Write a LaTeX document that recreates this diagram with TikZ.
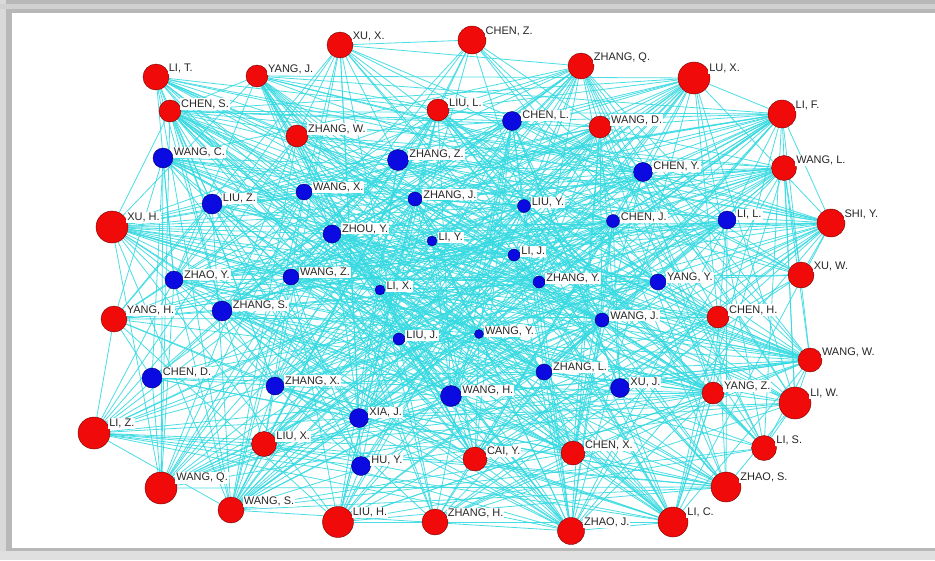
\documentclass[tikz,border=0pt]{standalone}
\usepackage{fontspec}
\setmainfont{Liberation Sans}
\usetikzlibrary{backgrounds}
\definecolor{edgecyan}{RGB}{55,218,226}
\definecolor{nodered}{RGB}{240,10,10}
\definecolor{nodeblue}{RGB}{10,10,225}
\tikzset{
  rednode/.style={circle, draw=red!45!black, fill=nodered, inner sep=0pt},
  bluenode/.style={circle, draw=blue!45!black, fill=nodeblue, inner sep=0pt},
  lbl/.style={fill=white, inner sep=1pt, anchor=west, font=\fontsize{11}{12}\selectfont, text=black!85},
  edge/.style={draw=edgecyan, line width=0.8pt, opacity=0.9},
}
\newcommand{\rn}[5]{\node[rednode, minimum size=#4pt, label={[lbl, label distance=1pt]35:#5}] (#1) at (#2,#3) {};}
\newcommand{\bn}[5]{\node[bluenode, minimum size=#4pt, label={[lbl, label distance=1pt]30:#5}] (#1) at (#2,#3) {};}

\begin{document}
\begin{tikzpicture}[x=1pt, y=-1pt]
  \useasboundingbox (0,0) rectangle (935,560);

  % red nodes
  \rn{xux}{340}{45}{26}{XU, X.}
  \rn{chenz}{472}{40}{28}{CHEN, Z.}
  \rn{zhangq}{581}{66}{26}{ZHANG, Q.}
  \rn{lux}{694}{78}{32}{LU, X.}
  \rn{lif}{782}{114}{28}{LI, F.}
  \rn{wangl}{784}{168}{25}{WANG, L.}
  \rn{shiy}{831}{223}{28}{SHI, Y.}
  \rn{xuw}{801}{275}{26}{XU, W.}
  \rn{chenh}{718}{317}{22}{CHEN, H.}
  \rn{wangw}{810}{360}{24}{WANG, W.}
  \rn{yangz}{713}{393}{22}{YANG, Z.}
  \rn{liw}{795}{403}{32}{LI, W.}
  \rn{lis}{764}{448}{25}{LI, S.}
  \rn{zhaos}{726}{487}{30}{ZHAO, S.}
  \rn{lic}{673}{522}{30}{LI, C.}
  \rn{zhaoj}{571}{531}{27}{ZHAO, J.}
  \rn{chenx}{573}{453}{24}{CHEN, X.}
  \rn{caiy}{475}{459}{24}{CAI, Y.}
  \rn{zhangh}{435}{522}{26}{ZHANG, H.}
  \rn{liuh}{338}{522}{31}{LIU, H.}
  \rn{wangs}{231}{510}{26}{WANG, S.}
  \rn{wangq}{161}{488}{32}{WANG, Q.}
  \rn{liz}{94}{433}{32}{LI, Z.}
  \rn{liux}{264}{444}{25}{LIU, X.}
  \rn{yangh}{114}{319}{26}{YANG, H.}
  \rn{xuh}{112}{227}{32}{XU, H.}
  \rn{chens}{170}{111}{22}{CHEN, S.}
  \rn{lit}{156}{77}{26}{LI, T.}
  \rn{yangj}{257}{76}{22}{YANG, J.}
  \rn{zhangw}{297}{136}{22}{ZHANG, W.}
  \rn{liul}{438}{110}{22}{LIU, L.}
  \rn{wangd}{600}{127}{22}{WANG, D.}

  % blue nodes
  \bn{wangc}{163}{158}{20}{WANG, C.}
  \bn{liuz}{212}{204}{20}{LIU, Z.}
  \bn{wangx}{304}{192}{16}{WANG, X.}
  \bn{zhangz}{398}{160}{21}{ZHANG, Z.}
  \bn{zhangj}{415}{199}{14}{ZHANG, J.}
  \bn{zhouy}{332}{234}{18}{ZHOU, Y.}
  \bn{liy}{432}{241}{10}{LI, Y.}
  \bn{chenl}{512}{121}{19}{CHEN, L.}
  \bn{cheny}{643}{172}{19}{CHEN, Y.}
  \bn{liuy}{524}{206}{13}{LIU, Y.}
  \bn{chenj}{613}{221}{13}{CHEN, J.}
  \bn{lil}{727}{220}{18}{LI, L.}
  \bn{lij}{514}{255}{12}{LI, J.}
  \bn{zhangy}{539}{282}{12}{ZHANG, Y.}
  \bn{yangy}{658}{282}{16}{YANG, Y.}
  \bn{wangj}{602}{320}{14}{WANG, J.}
  \bn{wangy}{479}{334}{9}{WANG, Y.}
  \bn{liuj}{399}{339}{12}{LIU, J.}
  \bn{lix}{380}{290}{10}{LI, X.}
  \bn{zhaoy}{174}{280}{18}{ZHAO, Y.}
  \bn{wangz}{291}{277}{16}{WANG, Z.}
  \bn{zhangs}{222}{311}{20}{ZHANG, S.}
  \bn{chend}{152}{378}{20}{CHEN, D.}
  \bn{zhangx}{275}{386}{18}{ZHANG, X.}
  \bn{xiaj}{359}{418}{19}{XIA, J.}
  \bn{huy}{361}{466}{19}{HU, Y.}
  \bn{wangh}{451}{396}{21}{WANG, H.}
  \bn{zhangl}{544}{372}{16}{ZHANG, L.}
  \bn{xuj}{620}{388}{19}{XU, J.}

  % co-author links
  \def\allnodes{xux,chenz,zhangq,lux,lif,wangl,shiy,xuw,chenh,wangw,yangz,liw,lis,zhaos,lic,zhaoj,chenx,caiy,zhangh,liuh,wangs,wangq,liz,liux,yangh,xuh,chens,lit,yangj,zhangw,liul,wangd,wangc,liuz,wangx,zhangz,zhangj,zhouy,liy,chenl,cheny,liuy,chenj,lil,lij,zhangy,yangy,wangj,wangy,liuj,lix,zhaoy,wangz,zhangs,chend,zhangx,xiaj,huy,wangh,zhangl,xuj}
  \begin{scope}[on background layer]
    % frame
    \fill[black!28] (0,0) rectangle (935,560);
    \fill[black!15] (0,0) rectangle (6,560);
    \fill[black!18] (0,4) rectangle (935,9);
    \fill[black!12] (0,551) rectangle (935,560);
    \fill[white] (12,13) rectangle (935,548);
    \foreach \a [count=\i] in \allnodes {
      \foreach \b [count=\j] in \allnodes {
        \ifnum\j>\i
          \edef\X{\the\numexpr \i*\i*7+\j*\j*3+\i*\j*13+\i+5*\j\relax}
          \edef\h{\the\numexpr \X-11*((\X-5)/11)\relax}
          \ifnum\h<4
            \draw[edge] (\a) -- (\b);
          \fi
        \fi
      }
    }
  \end{scope}
\end{tikzpicture}
\end{document}
